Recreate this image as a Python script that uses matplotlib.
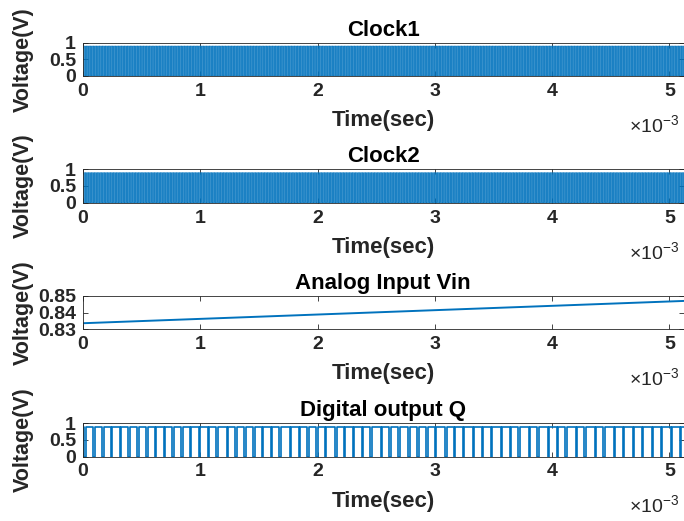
import numpy as np
import matplotlib
matplotlib.use("Agg")
import matplotlib.pyplot as plt
from matplotlib.ticker import FixedLocator, FuncFormatter

plt.rcParams['font.family'] = ['Liberation Sans', 'DejaVu Sans']
plt.rcParams['mathtext.fontset'] = 'custom'
plt.rcParams['mathtext.rm'] = 'Liberation Sans'
plt.rcParams['mathtext.it'] = 'Liberation Sans'

# ---- data ----
t_end = 5.12e-3            # simulation length (s)
clock_period = 1.25e-5     # clock period (s)
clock_high = 0.9           # clock / logic high level (V)
vin_time = [0.0, 5.12e-3]  # analog input ramp end points (s)
vin_volts = [0.8335, 0.847]  # analog input (V)
titles = ["Clock1", "Clock2", "Analog Input Vin", "Digital output Q"]
xticks = [0, 1e-3, 2e-3, 3e-3, 4e-3, 5e-3]
yticks_digital = [0, 0.5, 1]
yticks_analog = [0.83, 0.84, 0.85]

# ---- derived signals ----
n_cycles = int(round(t_end / clock_period))
half_edges = np.arange(0, 2 * n_cycles + 1) * (clock_period / 2)
clk1 = np.where(np.arange(half_edges.size) % 2 == 0, clock_high, 0.0)
clk2 = np.where(np.arange(half_edges.size) % 2 == 0, 0.0, clock_high)

bit_t = np.arange(0, n_cycles + 1) * clock_period
vin_s = np.interp(bit_t, vin_time, vin_volts)
acc = 0.0
bits = []
for v in vin_s:
    b = 1.0 if acc >= 0 else 0.0
    bits.append(b)
    acc += v - b
q = np.array(bits) * clock_high

# ---- figure ----
W, H = 684, 521
fig = plt.figure(figsize=(W / 100, H / 100), dpi=100)
blue = '#0072BD'
gray = '#262626'

rects = [(42.7, 76.0), (169.3, 202.7), (296.0, 329.0), (423.3, 456.5)]
left_px, right_px = 83.0, 683.5

for i, (top, bot) in enumerate(rects):
    ax = fig.add_axes([left_px / W, 1 - bot / H, (right_px - left_px) / W, (bot - top) / H])
    if i == 0:
        ax.plot(half_edges, clk1, drawstyle='steps-post', color=blue, lw=0.45)
    elif i == 1:
        ax.plot(half_edges, clk2, drawstyle='steps-post', color=blue, lw=0.45)
    elif i == 2:
        ax.plot(vin_time, vin_volts, color=blue, lw=1.4)
    else:
        ax.plot(bit_t, q, drawstyle='steps-post', color=blue, lw=1.2)

    ax.set_xlim(0, t_end)
    if i == 2:
        ax.set_ylim(0.83, 0.85)
        ax.yaxis.set_major_locator(FixedLocator(yticks_analog))
        ax.yaxis.set_major_formatter(FuncFormatter(lambda v, p: f"{v:.2f}"))
    else:
        ax.set_ylim(0, 1)
        ax.yaxis.set_major_locator(FixedLocator(yticks_digital))
        ax.yaxis.set_major_formatter(FuncFormatter(lambda v, p: f"{v:g}"))
    ax.xaxis.set_major_locator(FixedLocator(xticks))
    ax.xaxis.set_major_formatter(FuncFormatter(lambda v, p: f"{v * 1e3:g}"))

    ax.tick_params(direction='in', length=3.5, width=0.6, colors=gray,
                   top=True, right=True, labelsize=14, pad=5)
    for lab in ax.get_xticklabels() + ax.get_yticklabels():
        lab.set_fontweight('bold')
    for s in ax.spines.values():
        s.set_color(gray)
        s.set_linewidth(0.6)

    ax.set_title(titles[i], fontsize=16, fontweight='bold', color='black', pad=5)
    ax.set_xlabel("Time(sec)", fontsize=16, fontweight='bold', color=gray, va='center')
    ax.xaxis.set_label_coords(0.5, -44.5 / (bot - top))
    ax.set_ylabel("Voltage(V)", fontsize=15.5, fontweight='bold', color=gray, va='center')
    ax.yaxis.set_label_coords(-(83 - 23) / (right_px - left_px), 0.5)

    fig.text(629 / W, 1 - (bot + 56) / H, r'$\times10^{-3}$', fontsize=14, color=gray,
             ha='left', va='baseline')

fig.savefig("out.png", dpi=100)
